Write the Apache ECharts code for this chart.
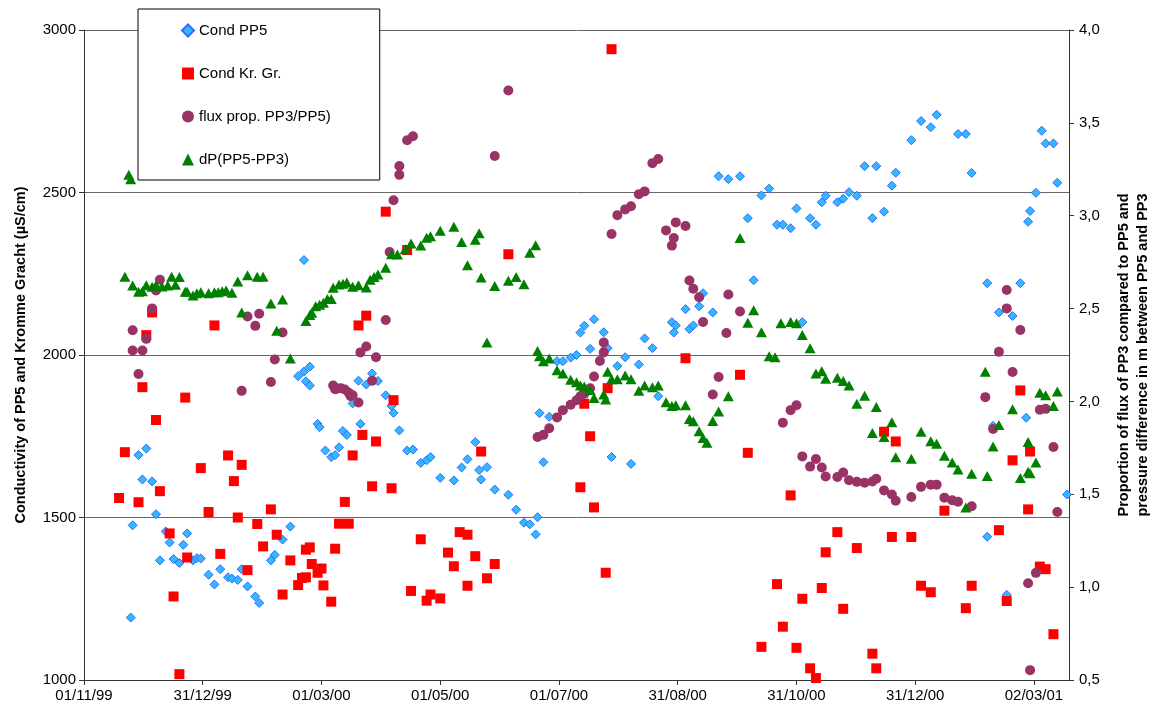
<!DOCTYPE html>
<html>
<head>
<meta charset="utf-8">
<script src="https://cdn.jsdelivr.net/npm/echarts@6/dist/echarts.min.js"></script>
<style>
  html, body { margin: 0; padding: 0; background: #ffffff; }
  #chart { width: 1157px; height: 709px; }
</style>
</head>
<body>
<div id="chart"></div>
<script>
// x values are days counted from 01/11/99; ticks every 61 days
const tickLabels = ['01/11/99', '31/12/99', '01/03/00', '01/05/00', '01/07/00',
                    '31/08/00', '31/10/00', '31/12/00', '02/03/01'];
const tickStep = 61;
const lastDay = 506;

// Conductivity of PP5 (µS/cm) — [day, value]
const condPP5 = [
  [24,1192],[25,1476],[28,1692],[30,1617],[32,1712],[35,1611],[37,1510],[39,1368],[42,1457],[44,1423],
  [46,1372],[49,1360],[51,1416],[53,1451],[56,1368],[58,1375],[60,1374],[64,1324],[67,1294],[70,1341],
  [74,1316],[76,1312],[79,1308],[81,1341],[84,1288],[88,1257],[90,1237],[96,1368],[98,1385],[102,1432],
  [106,1472],[110,1935],[113,2292],[113,1949],[114,1919],[116,1964],[116,1906],[120,1788],[121,1778],[124,1706],
  [127,1686],[129,1692],[131,1716],[133,1766],[135,1754],[138,1851],[141,1921],[142,1788],[145,1909],[148,1943],
  [151,1920],[155,1876],[158,1843],[159,1822],[162,1768],[166,1706],[169,1709],[173,1668],[176,1676],[178,1686],
  [183,1622],[190,1614],[194,1654],[197,1679],[201,1732],[203,1646],[204,1617],[207,1655],[211,1586],[218,1570],
  [222,1524],[226,1484],[229,1479],[232,1448],[233,1501],[234,1821],[236,1670],[239,1810],[243,1981],[246,1981],
  [250,1992],[253,2000],[255,2069],[257,2090],[260,2019],[262,2110],[267,2070],[268,2021],[269,2021],[271,1686],
  [274,1966],[278,1993],[281,1665],[285,1971],[288,2051],[292,2021],[295,1873],[302,2101],[303,2069],[304,2091],
  [309,2141],[311,2080],[313,2091],[316,2150],[318,2190],[323,2131],[326,2550],[331,2541],[337,2550],[341,2421],
  [344,2230],[348,2491],[352,2512],[356,2401],[359,2401],[363,2390],[366,2451],[369,2101],[373,2421],[376,2401],
  [379,2470],[381,2490],[387,2470],[390,2481],[393,2501],[397,2490],[401,2581],[405,2421],[407,2581],[411,2441],
  [415,2521],[417,2561],[425,2661],[430,2720],[435,2701],[438,2739],[449,2680],[453,2680],[456,2560],[464,2221],
  [464,1441],[467,1782],[470,2131],[474,1262],[477,2120],[481,2221],[484,1807],[485,2410],[486,2443],[489,2499],
  [492,2690],[494,2651],[498,2651],[500,2530],[505,1571]
];

// Conductivity of Kromme Gracht (µS/cm) — [day, value]
const condKrGr = [
  [18,1560],[21,1701],[28,1547],[30,1901],[32,2061],[35,2131],[37,1800],[39,1581],[44,1451],[46,1257],
  [49,1018],[52,1869],[53,1377],[60,1652],[64,1517],[67,2091],[70,1388],[74,1691],[77,1612],[79,1500],
  [81,1662],[84,1338],[89,1480],[92,1411],[96,1525],[99,1447],[102,1263],[106,1368],[110,1292],[112,1314],
  [114,1316],[114,1401],[116,1408],[117,1357],[120,1330],[122,1343],[123,1291],[127,1241],[129,1404],[131,1481],
  [134,1548],[136,1481],[138,1691],[141,2091],[143,1754],[145,2121],[148,1596],[150,1734],[155,2441],[158,1590],
  [159,1861],[166,2323],[168,1274],[173,1433],[176,1244],[178,1263],[183,1251],[187,1392],[190,1350],[193,1455],
  [197,1447],[197,1290],[201,1381],[204,1703],[207,1313],[211,1357],[218,2310],[255,1593],[257,1850],[260,1750],
  [262,1531],[268,1330],[269,1898],[271,2941],[309,1990],[337,1939],[341,1699],[348,1102],[356,1295],[359,1164],
  [363,1568],[366,1099],[369,1250],[373,1036],[376,1006],[379,1283],[381,1393],[387,1455],[390,1219],[397,1406],
  [405,1081],[407,1036],[411,1764],[415,1440],[417,1734],[425,1440],[430,1290],[435,1270],[442,1521],[453,1221],
  [456,1290],[470,1461],[474,1243],[477,1676],[481,1891],[485,1525],[486,1703],[491,1349],[494,1341],[498,1141]
];

// Proportion of flux of PP3 compared to PP5 — [day, ratio]
const fluxProp = [
  [25,2.383],[25,2.274],[28,2.148],[30,2.274],[32,2.337],[35,2.501],[37,2.597],[39,2.655],[81,2.057],[84,2.457],
  [88,2.407],[90,2.472],[96,2.105],[98,2.226],[102,2.371],[128,2.086],[129,2.066],[130,2.069],[132,2.071],[134,2.064],
  [136,2.047],[137,2.028],[138,2.033],[141,1.994],[142,2.264],[145,2.296],[148,2.112],[150,2.238],[155,2.438],[157,2.805],
  [159,3.083],[162,3.220],[162,3.268],[166,3.406],[169,3.428],[211,3.322],[218,3.674],[233,1.808],[236,1.820],[239,1.856],
  [243,1.914],[246,1.953],[250,1.982],[253,2.006],[255,2.028],[257,2.042],[260,2.071],[262,2.134],[265,2.218],[267,2.264],
  [267,2.317],[271,2.902],[274,3.003],[278,3.034],[281,3.051],[285,3.116],[288,3.131],[292,3.283],[295,3.305],[299,2.921],
  [302,2.839],[303,2.880],[304,2.964],[309,2.945],[311,2.651],[313,2.607],[316,2.561],[318,2.428],[323,2.037],[326,2.132],
  [330,2.368],[331,2.576],[337,2.484],[359,1.885],[363,1.953],[366,1.979],[369,1.704],[373,1.649],[376,1.690],[379,1.644],
  [381,1.596],[387,1.593],[390,1.617],[393,1.576],[397,1.567],[401,1.562],[405,1.569],[407,1.584],[411,1.521],[415,1.499],
  [417,1.465],[425,1.485],[430,1.540],[435,1.552],[438,1.552],[442,1.482],[446,1.468],[449,1.460],[456,1.436],[463,2.023],
  [467,1.852],[470,2.267],[474,2.501],[474,2.600],[477,2.158],[481,2.385],[485,1.021],[486,0.553],[489,1.077],[491,1.955],
  [494,1.960],[498,1.755],[500,1.405]
];

// Pressure difference PP5 - PP3 (m) — [day, value]
const dP = [
  [21,2.672],[23,3.220],[24,3.196],[25,2.624],[28,2.590],[30,2.593],[32,2.626],[35,2.617],[37,2.626],[40,2.619],
  [43,2.624],[45,2.672],[47,2.628],[49,2.670],[52,2.590],[53,2.590],[56,2.571],[58,2.583],[60,2.588],[64,2.583],
  [67,2.588],[69,2.588],[71,2.593],[73,2.597],[76,2.585],[79,2.646],[81,2.479],[84,2.680],[89,2.672],[92,2.672],
  [96,2.527],[99,2.380],[102,2.549],[106,2.231],[114,2.433],[116,2.465],[117,2.477],[119,2.513],[121,2.520],[123,2.532],
  [125,2.552],[127,2.552],[128,2.612],[131,2.629],[133,2.634],[135,2.641],[138,2.617],[141,2.626],[145,2.614],[147,2.655],
  [149,2.670],[151,2.684],[155,2.720],[158,2.793],[161,2.791],[165,2.820],[168,2.851],[173,2.839],[176,2.882],[178,2.890],
  [183,2.919],[190,2.940],[194,2.858],[197,2.733],[201,2.870],[203,2.906],[204,2.667],[207,2.317],[211,2.622],[218,2.650],
  [222,2.670],[226,2.631],[229,2.800],[232,2.841],[233,2.272],[234,2.243],[236,2.216],[239,2.231],[243,2.168],[246,2.151],
  [250,2.117],[253,2.103],[255,2.086],[257,2.081],[260,2.062],[262,2.018],[267,2.037],[268,2.011],[269,2.160],[271,2.119],
  [274,2.119],[278,2.139],[281,2.119],[285,2.057],[288,2.086],[292,2.076],[295,2.086],[299,1.996],[302,1.975],[304,1.980],
  [309,1.980],[311,1.905],[313,1.893],[316,1.840],[318,1.803],[320,1.777],[323,1.895],[326,1.946],[331,2.028],[337,2.880],
  [341,2.424],[344,2.491],[348,2.373],[352,2.243],[355,2.238],[358,2.421],[363,2.428],[366,2.421],[369,2.358],[373,2.286],
  [376,2.151],[379,2.163],[381,2.122],[387,2.127],[390,2.110],[393,2.086],[397,1.987],[401,2.030],[405,1.830],[407,1.970],
  [411,1.808],[415,1.888],[417,1.699],[425,1.692],[430,1.837],[435,1.786],[438,1.772],[442,1.707],[446,1.671],[449,1.634],
  [453,1.429],[456,1.610],[463,2.160],[464,1.598],[467,1.757],[470,1.873],[477,1.958],[481,1.588],[485,1.781],[485,1.622],
  [486,1.613],[489,1.671],[491,2.047],[494,2.033],[498,1.975],[500,2.054]
];

const FONT = '"Liberation Sans", Arial, sans-serif';
const tickDays = tickLabels.map((_, i) => i * tickStep);
const axisLineStyle = { color: '#333333', width: 1 };

const chart = echarts.init(document.getElementById('chart'), null, { renderer: 'canvas' });

chart.setOption({
  animation: false,
  backgroundColor: '#ffffff',
  textStyle: { fontFamily: FONT, color: '#000000' },
  grid: { left: 84, right: 88, top: 30, bottom: 29, containLabel: false, outerBoundsMode: 'none' },
  legend: {
    orient: 'vertical',
    left: 138,
    top: 9,
    padding: [14, 49, 13, 43],
    itemWidth: 12,
    itemHeight: 12,
    itemGap: 28,
    backgroundColor: '#ffffff',
    borderColor: '#000000',
    borderWidth: 1,
    textStyle: { fontFamily: FONT, fontSize: 15, color: '#000000' },
    data: [
      { name: 'Cond PP5', icon: 'diamond' },
      { name: 'Cond Kr. Gr.', icon: 'rect' },
      { name: 'flux prop. PP3/PP5)', icon: 'circle' },
      { name: 'dP(PP5-PP3)', icon: 'triangle' }
    ]
  },
  xAxis: {
    type: 'value',
    min: 0,
    max: lastDay,
    axisLine: { show: true, onZero: false, lineStyle: axisLineStyle },
    axisTick: { show: true, customValues: tickDays, length: 5, lineStyle: axisLineStyle },
    axisLabel: {
      customValues: tickDays,
      margin: 8,
      fontFamily: FONT,
      fontSize: 15,
      color: '#000000',
      formatter: v => tickLabels[Math.round(v / tickStep)] || ''
    },
    splitLine: { show: false }
  },
  yAxis: [
    {
      type: 'value',
      min: 1000,
      max: 3000,
      interval: 500,
      position: 'left',
      name: 'Conductivity of PP5 and Kromme Gracht (µS/cm)',
      nameLocation: 'middle',
      nameRotate: 90,
      nameGap: 56,
      nameTextStyle: { fontFamily: FONT, fontSize: 14.5, fontWeight: 'bold', color: '#000000' },
      axisLine: { show: true, lineStyle: axisLineStyle },
      axisTick: { show: true, length: 5, lineStyle: axisLineStyle },
      axisLabel: {
        margin: 8,
        fontFamily: FONT,
        fontSize: 15,
        color: '#000000',
        formatter: v => String(v)
      },
      splitLine: { show: true, lineStyle: { color: '#666666', width: 1 } }
    },
    {
      type: 'value',
      min: 0.5,
      max: 4.0,
      interval: 0.5,
      position: 'right',
      name: 'Proportion of flux of PP3 compared to PP5 and\npressure difference in m between PP5 and PP3',
      nameLocation: 'middle',
      nameRotate: 90,
      nameGap: 45,
      nameTextStyle: { fontFamily: FONT, fontSize: 14.5, fontWeight: 'bold', color: '#000000', lineHeight: 19 },
      axisLine: { show: true, lineStyle: axisLineStyle },
      axisTick: { show: true, length: 5, lineStyle: axisLineStyle },
      axisLabel: {
        margin: 10,
        fontFamily: FONT,
        fontSize: 15,
        color: '#000000',
        formatter: v => v.toFixed(1).replace('.', ',')
      },
      splitLine: { show: false }
    }
  ],
  series: [
    {
      name: 'Cond PP5',
      type: 'scatter',
      yAxisIndex: 0,
      symbol: 'diamond',
      symbolSize: 9,
      clip: false,
      itemStyle: { color: '#33b8ff', borderColor: '#2f6bff', borderWidth: 1, opacity: 1 },
      data: condPP5
    },
    {
      name: 'Cond Kr. Gr.',
      type: 'scatter',
      yAxisIndex: 0,
      symbol: 'rect',
      symbolSize: 10,
      clip: false,
      itemStyle: { color: '#ff0000', opacity: 1 },
      data: condKrGr
    },
    {
      name: 'flux prop. PP3/PP5)',
      type: 'scatter',
      yAxisIndex: 1,
      symbol: 'circle',
      symbolSize: 10,
      clip: false,
      itemStyle: { color: '#993366', opacity: 1 },
      data: fluxProp
    },
    {
      name: 'dP(PP5-PP3)',
      type: 'scatter',
      yAxisIndex: 1,
      symbol: 'triangle',
      symbolSize: [11, 10],
      clip: false,
      itemStyle: { color: '#008000', opacity: 1 },
      data: dP
    }
  ]
});
</script>
</body>
</html>
